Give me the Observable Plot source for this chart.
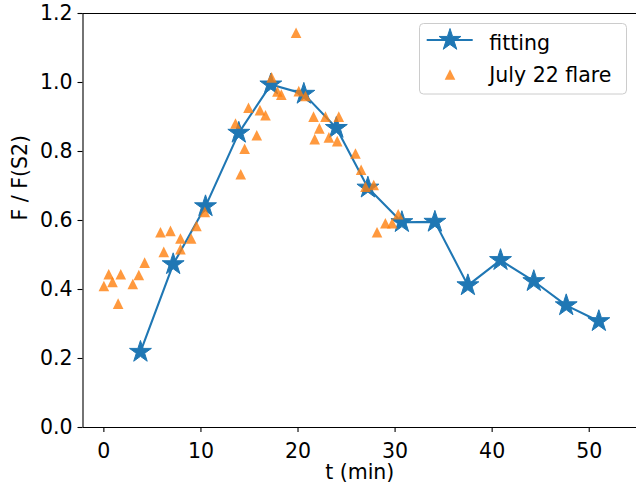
<!DOCTYPE html>
<html>
<head>
<meta charset="utf-8">
<script src="https://cdn.jsdelivr.net/npm/d3@7"></script>
<script src="https://cdn.jsdelivr.net/npm/@observablehq/plot@0.6"></script>
<style>
  body { margin: 0; background: #fff; }
  #wrap { position: relative; width: 636px; height: 489px; font-family: "DejaVu Sans", sans-serif; }
  #legend { position: absolute; left: 0; top: 0; pointer-events: none; }
</style>
</head>
<body>
<div id="wrap"></div>
<script>
// ---- data ----
const fitT = [3.77, 7.14, 10.47, 13.9, 17.2, 20.6, 23.95, 27.2, 30.7, 34.1, 37.5, 40.86, 44.29, 47.63, 50.99];
const fitF = [0.219, 0.473, 0.641, 0.854, 0.994, 0.967, 0.868, 0.695, 0.595, 0.596, 0.412, 0.485, 0.424, 0.354, 0.308];

const flareT = [0.0, 0.5, 0.89, 1.47, 1.74, 2.98, 3.6, 4.2, 5.83, 6.17, 6.86, 7.89, 7.89, 8.99, 9.54, 10.4,
  13.56, 14.1, 14.5, 14.9, 15.75, 16.08, 16.65, 17.28, 17.88, 18.28, 19.8, 20.08, 20.77, 21.6, 21.72, 22.2,
  22.83, 23.18, 24.04, 24.2, 25.92, 26.5, 26.95, 27.8, 28.14, 29.0, 29.7, 30.32];
const flareF = [0.41, 0.444, 0.422, 0.359, 0.444, 0.416, 0.442, 0.478, 0.566, 0.509, 0.570, 0.548, 0.517, 0.548, 0.584, 0.625,
  0.881, 0.734, 0.808, 0.927, 0.847, 0.920, 0.905, 1.015, 0.974, 0.965, 1.144, 0.975, 0.961, 0.901, 0.836, 0.867,
  0.901, 0.841, 0.830, 0.901, 0.794, 0.747, 0.698, 0.703, 0.566, 0.592, 0.592, 0.618];

const xTicks = [0, 10, 20, 30, 40, 50];
const yTicks = [0.0, 0.2, 0.4, 0.6, 0.8, 1.0, 1.2];
const xDomain = [-2.15, 54.87];
const yDomain = [0, 1.2];
const seriesNames = ["fitting", "July 22 flare"];
const xLabel = "t (min)";
const yLabel = "F / F(S2)";

const fit = fitT.map((t, i) => ({t, f: fitF[i]}));
const flare = flareT.map((t, i) => ({t, f: flareF[i]}));

// ---- styles ----
const BLUE = "#1f77b4", ORANGE = "#ff7f0e";
const FONT = "DejaVu Sans";
const FS = 20.5;
const W = 636, H = 489;
const mL = 82.5, mR = 0, mT = 13, mB = 62;

// matplotlib-like marker shapes
const mplStar = {
  draw(ctx, size) {
    const R = Math.sqrt(size / Math.PI), r = R * 0.381966;
    for (let i = 0; i < 10; i++) {
      const a = Math.PI * i / 5, rad = i % 2 ? r : R;
      const x = rad * Math.sin(a), y = -rad * Math.cos(a);
      if (i) ctx.lineTo(x, y); else ctx.moveTo(x, y);
    }
    ctx.closePath();
  }
};
const mplTri = {
  draw(ctx, size) {
    const R = Math.sqrt(size / Math.PI);
    ctx.moveTo(0, -R); ctx.lineTo(-R, R); ctx.lineTo(R, R); ctx.closePath();
  }
};

const chart = Plot.plot({
  width: W, height: H,
  marginLeft: mL, marginRight: mR, marginTop: mT, marginBottom: mB,
  style: {fontFamily: FONT, fontSize: FS + "px", color: "black", background: "white"},
  x: {domain: xDomain},
  y: {domain: yDomain},
  marks: [
    Plot.ruleY([yDomain[0], yDomain[1]], {stroke: "black", strokeWidth: 1.1}),
    Plot.ruleX([xDomain[0]], {stroke: "black", strokeWidth: 1.1}),
    Plot.axisX({ticks: xTicks, tickSize: 5, tickPadding: 11, label: null, fontSize: FS, strokeWidth: 1.1}),
    Plot.axisY({ticks: yTicks, tickFormat: d3.format(".1f"), tickSize: 5, tickPadding: 5.5, label: null, fontSize: FS, strokeWidth: 1.1}),
    Plot.line(fit, {x: "t", y: "f", stroke: BLUE, strokeWidth: 2.1}),
    Plot.dot(fit, {x: "t", y: "f", symbol: mplStar, r: 11.5, fill: BLUE, stroke: BLUE, strokeWidth: 1}),
    Plot.dot(flare, {x: "t", y: "f", symbol: mplTri, r: 5.3, fill: ORANGE, fillOpacity: 0.8, stroke: "none"}),
    Plot.text([xLabel], {frameAnchor: "bottom", dy: 51.5, fontSize: FS, fill: "black"}),
    Plot.text([yLabel], {frameAnchor: "left", dx: -63, rotate: -90, fontSize: FS, fill: "black"})
  ]
});

const wrap = document.getElementById("wrap");
wrap.appendChild(chart);

// ---- legend overlay ----
const lg = d3.select(wrap).append("svg").attr("id", "legend")
  .attr("width", W).attr("height", H)
  .style("font-family", FONT).style("font-size", FS + "px");
lg.append("rect").attr("x", 419.5).attr("y", 23.5).attr("width", 207).attr("height", 70.5)
  .attr("rx", 4).attr("fill", "white").attr("fill-opacity", 0.8).attr("stroke", "#cccccc").attr("stroke-width", 1);
lg.append("line").attr("x1", 426.7).attr("x2", 472.7).attr("y1", 40).attr("y2", 40)
  .attr("stroke", BLUE).attr("stroke-width", 2.1);
lg.append("path").attr("transform", "translate(450,40)")
  .attr("d", d3.symbol(mplStar, Math.PI * 11.5 * 11.5)()).attr("fill", BLUE).attr("stroke", BLUE);
lg.append("path").attr("transform", "translate(450,74.5)")
  .attr("d", d3.symbol(mplTri, Math.PI * 5.3 * 5.3)()).attr("fill", ORANGE).attr("fill-opacity", 0.8);
lg.append("text").attr("x", 489.3).attr("y", 49.5).text(seriesNames[0]);
lg.append("text").attr("x", 489.3).attr("y", 82).text(seriesNames[1]);
</script>
</body>
</html>
